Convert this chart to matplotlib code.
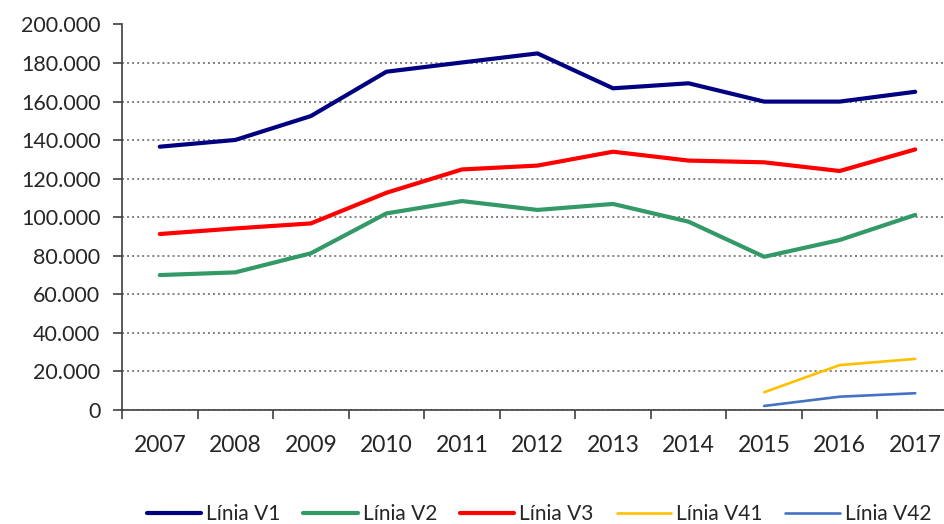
import matplotlib
matplotlib.use("Agg")
import matplotlib.pyplot as plt
from matplotlib.ticker import FuncFormatter, MultipleLocator, FixedLocator
import numpy as np

years = ["2007", "2008", "2009", "2010", "2011", "2012", "2013", "2014", "2015", "2016", "2017"]
v1 = [136600, 140100, 152500, 175500, 180300, 185000, 166900, 169500, 160000, 160000, 165100]
v2 = [70000, 71400, 81300, 102000, 108400, 103800, 106900, 97700, 79500, 88200, 101200]
v3 = [91300, 94200, 96800, 112700, 124800, 126800, 134000, 129400, 128500, 124000, 135200]
v41 = [None] * 8 + [9200, 23300, 26500]
v42 = [None] * 8 + [2100, 6900, 8700]

names = ["Línia V1", "Línia V2", "Línia V3", "Línia V41", "Línia V42"]
colors = ["#000080", "#339966", "#FF0000", "#FFC000", "#4472C4"]
widths = [3.0, 3.0, 3.0, 1.9, 1.9]

plt.rcParams['font.family'] = ['Lato', 'DejaVu Sans']

fig = plt.figure(figsize=(9.44, 5.24), dpi=100)
ax = fig.add_axes([122 / 944, 1 - 410 / 524, (953 - 122) / 944, (410 - 24.5) / 524])

x = np.arange(len(years))
series = [v1, v2, v3, v41, v42]
for s, n, c, w in zip(series, names, colors, widths):
    y = np.array([np.nan if v is None else v for v in s], dtype=float)
    ax.plot(x, y, color=c, lw=w, label=n, solid_capstyle='round', solid_joinstyle='round')

ax.set_xlim(-0.5, len(years) - 0.5)
ax.set_ylim(0, 200000)
ax.yaxis.set_major_locator(MultipleLocator(20000))
ax.yaxis.set_major_formatter(FuncFormatter(lambda v, p: f"{int(v):,}".replace(",", ".")))
ax.set_xticks(x)
ax.set_xticklabels(years)
ax.xaxis.set_minor_locator(FixedLocator(np.arange(-0.5, len(years), 1.0)))
ax.tick_params(axis='x', which='major', length=0, pad=18, labelsize=16.5, colors='#262626')
ax.tick_params(axis='x', which='minor', length=6.5, width=1.2, color='#404040', direction='out')
ax.tick_params(axis='y', which='major', length=6.5, width=1.2, color='#404040', pad=9,
               labelsize=15.5, labelcolor='#262626')

ax.grid(axis='y', color='#808080', linestyle=(0, (1, 1.6)), linewidth=1.4)
ax.set_axisbelow(True)
for sp in ['top', 'right']:
    ax.spines[sp].set_visible(False)
for sp in ['left', 'bottom']:
    ax.spines[sp].set_color('#404040')
    ax.spines[sp].set_linewidth(1.2)

leg = fig.legend(loc='center', bbox_to_anchor=(539 / 944, 1 - 514 / 524), ncol=5, frameon=False,
                 fontsize=15, handlelength=2.6, handletextpad=0.25, columnspacing=1.1,
                 labelcolor='#262626')
for line in leg.get_lines():
    line.set_solid_capstyle('round')

fig.savefig("out.png", dpi=100)
